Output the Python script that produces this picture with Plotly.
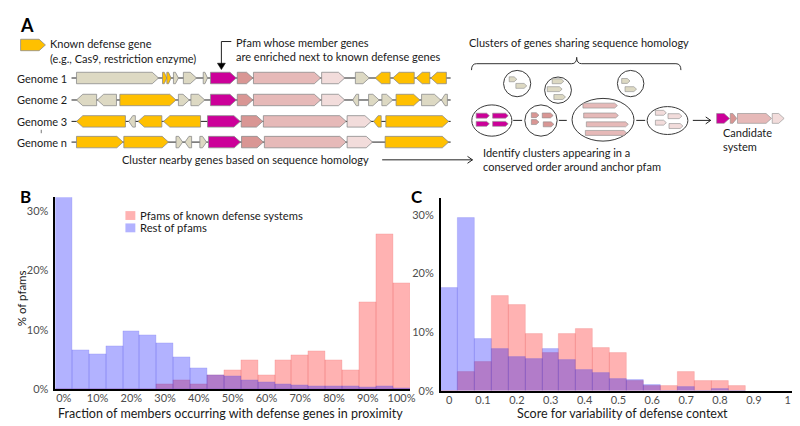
import plotly.graph_objects as go

# ---------------- DATA ----------------
# Panel B: fraction of members occurring with defense genes in proximity (bin centres, %)
b_bins = [0, 5, 10, 15, 20, 25, 30, 35, 40, 45, 50, 55, 60, 65, 70, 75, 80, 85, 90, 95, 100]
b_known = [0, 0, 0, 0, 0, 0, 0.8, 1.55, 0.8, 2.4, 3.2, 4.8, 2.4, 4.8, 5.7, 6.4, 4.8, 3.2, 14.7, 26.1, 17.9]
b_rest = [32.5, 6.5, 5.8, 7.2, 9.8, 9.05, 7.7, 5.3, 3.5, 2.3, 2.1, 1.55, 1.2, 0.8, 0.7, 0.5, 0.55, 0.45, 0.3, 0.5, 0.2]
b_ticks = [0, 10, 20, 30, 40, 50, 60, 70, 80, 90, 100]
b_ticktext = ["0%", "10%", "20%", "30%", "40%", "50%", "60%", "70%", "80%", "90%", "100%"]

# Panel C: score for variability of defense context (bin centres)
c_bins = [0, 0.05, 0.1, 0.15, 0.2, 0.25, 0.3, 0.35, 0.4, 0.45, 0.5, 0.55, 0.6, 0.65, 0.7, 0.75, 0.8, 0.85]
c_known = [0, 3.3, 4.9, 16.2, 14.6, 9.7, 6.5, 9.7, 10.6, 7.3, 6.5, 1.6, 0.85, 0.8, 3.3, 1.6, 1.6, 0.8]
c_rest = [17.5, 29.5, 8.9, 7.1, 5.8, 5.5, 7.1, 5.3, 3.6, 3.1, 2.1, 1.9, 1.05, 0.0, 0.7, 0.05, 0.35, 0.0]
c_ticks = [0, 0.1, 0.2, 0.3, 0.4, 0.5, 0.6, 0.7, 0.8, 0.9, 1]
c_ticktext = ["0", "0.1", "0.2", "0.3", "0.4", "0.5", "0.6", "0.7", "0.8", "0.9", "1"]

y_ticks = [0, 10, 20, 30]
y_ticktext = ["0%", "10%", "20%", "30%"]

series_names = ["Pfams of known defense systems", "Rest of pfams"]

# Panel A: gene neighbourhoods (start, end, strand, gene type) per genome row
genome_labels = ["Genome 1", "Genome 2", "Genome 3", "Genome n"]
genome_rows = [
    [(69, 151.7, 1, "other"), (155.7, 160, 1, "defense"), (160, 164.3, 1, "defense"),
     (166.7, 171.7, 1, "other"), (176.7, 190, 1, "other"), (196.7, 201, 1, "other"),
     (204, 230, 1, "anchor"), (231, 246.7, 1, "c1"), (247.3, 315, 1, "c2"), (316, 339.3, 1, "c3"),
     (350, 364, 1, "other"), (370, 385, -1, "defense"), (387.7, 409.3, -1, "defense"),
     (411, 425, -1, "defense"), (426, 441.7, -1, "defense")],
    [(69, 89.3, -1, "other"), (90, 109.3, -1, "other"), (112.7, 169.3, 1, "defense"),
     (171.7, 182.7, 1, "other"), (184.3, 198.3, 1, "other"),
     (204, 230, 1, "anchor"), (231, 246.7, 1, "c1"), (247.3, 315, 1, "c2"), (316, 339.3, 1, "c3"),
     (347.3, 353.3, -1, "other"), (363.3, 374, 1, "other"), (376.7, 387.7, 1, "other"),
     (391, 415, 1, "defense"), (416.7, 436, 1, "other"), (436.7, 442.7, -1, "other")],
    [(69, 118.3, -1, "defense"), (121.7, 128.3, -1, "other"), (131, 155, -1, "defense"),
     (156.7, 194, -1, "defense"),
     (201, 234, 1, "anchor"), (235, 256.7, 1, "c1"), (257.3, 340.7, 1, "c2"), (341.7, 366, 1, "c3"),
     (368.3, 376, -1, "defense"), (380.7, 444, 1, "defense")],
    [(69, 116, 1, "defense"), (116.7, 161.7, 1, "defense"), (169.3, 176, 1, "other"),
     (178.3, 185, -1, "other"), (193.3, 200, 1, "other"),
     (202, 234.3, 1, "anchor"), (235.3, 257.3, 1, "c1"), (258.3, 340.7, 1, "c2"), (341.7, 367.3, 1, "c3"),
     (380, 444, 1, "defense")],
]
genome_row_y = [71, 93.3, 115, 136]

# homology clusters: ellipse bounds (x0, x1, y0, y1) and member genes (start, end, y, type)
cluster_ellipses = [(499.3, 526.7, 63.3, 90), (540.7, 567.7, 70, 96.7), (614, 640.7, 63.3, 90),
                    (467.3, 507.7, 98.3, 130), (520.7, 553.3, 98.3, 130),
                    (568.3, 630.7, 91.7, 135), (644, 685, 100, 128.3)]
cluster_genes = [
    (505, 512.7, 72.3, "other"), (511.7, 522.7, 79, "other"),
    (548.3, 560, 74.3, "other"), (543.3, 558.3, 82.3, "other"), (550, 561.7, 90.3, "other"),
    (618.3, 626.7, 74, "other"), (621.7, 633.3, 82.3, "other"),
    (471.7, 485, 109.2, "anchor"), (488.3, 504, 109.2, "anchor"),
    (471.7, 485, 117.5, "anchor"), (488.3, 504, 117.5, "anchor"),
    (527.3, 535, 108.7, "c1"), (538.3, 549.3, 109, "c1"), (527.3, 535, 115.7, "c1"), (539.3, 550, 118, "c1"),
    (579.3, 614, 99, "c2"), (580, 615, 109, "c2"), (582.7, 625, 118, "c2"), (581.7, 623.3, 126.7, "c2"),
    (652.3, 663.3, 106.3, "c3"), (665, 679, 109.7, "c3"), (652.3, 663.3, 116.3, "c3"), (666, 680, 119.7, "c3"),
]
candidate_genes = [(714, 727, "anchor"), (727.7, 734.3, "c1"), (735, 769.3, "c2"), (770, 782, "c3")]

# ---------------- STYLE ----------------
RED = "rgba(255,0,0,0.3)"
BLUE = "rgba(0,0,255,0.3)"
RED_EDGE = "rgba(230,90,90,0.25)"
BLUE_EDGE = "rgba(90,90,230,0.25)"
GENE_COL = {"other": "#DDD9C3", "defense": "#FFC000", "anchor": "#CC0099",
            "c1": "#D99694", "c2": "#E6B9B8", "c3": "#F2DCDB"}
GENE_LINE = "#8C8C8C"
FONT = "Lato"
TXT = "#1A1A1A"
TICK = "#4D4D4D"
DIAG_SIZE = 11

W, H = 800, 426


def px_x(v):
    return v / W


def px_y(v):
    return 1 - v / H


fig = go.Figure()

# Panel B
fig.add_trace(go.Bar(x=b_bins, y=b_known, width=5, name=series_names[0], marker_color=RED,
                     marker_line=dict(color=RED_EDGE, width=0.8), xaxis="x", yaxis="y", showlegend=False))
fig.add_trace(go.Bar(x=b_bins, y=b_rest, width=5, name=series_names[1], marker_color=BLUE,
                     marker_line=dict(color=BLUE_EDGE, width=0.8), xaxis="x", yaxis="y", showlegend=False))
# Panel C
fig.add_trace(go.Bar(x=c_bins, y=c_known, width=0.05, name=series_names[0], marker_color=RED,
                     marker_line=dict(color=RED_EDGE, width=0.8), xaxis="x2", yaxis="y2", showlegend=False))
fig.add_trace(go.Bar(x=c_bins, y=c_rest, width=0.05, name=series_names[1], marker_color=BLUE,
                     marker_line=dict(color=BLUE_EDGE, width=0.8), xaxis="x2", yaxis="y2", showlegend=False))
# Invisible anchor trace for diagram axes
fig.add_trace(go.Scatter(x=[0, W], y=[0, H], mode="markers", marker=dict(opacity=0),
                         xaxis="x3", yaxis="y3", showlegend=False, hoverinfo="skip"))

shapes = []
annots = []


def gene_path(x0, x1, yc, h, strand):
    L = x1 - x0
    tip = min(0.55 * h, 0.6 * L)
    t, b = yc - h / 2, yc + h / 2
    if strand > 0:
        return f"M{x0},{t} L{x1 - tip},{t} L{x1},{yc} L{x1 - tip},{b} L{x0},{b} Z"
    return f"M{x1},{t} L{x0 + tip},{t} L{x0},{yc} L{x0 + tip},{b} L{x1},{b} Z"


def add_gene(x0, x1, yc, h, strand, kind, lw=0.8):
    shapes.append(dict(type="path", xref="x3", yref="y3", path=gene_path(x0, x1, yc, h, strand),
                       fillcolor=GENE_COL[kind], line=dict(color=GENE_LINE, width=lw), layer="above"))


def add_line(x0, y0, x1, y1, w=1, color="#222"):
    shapes.append(dict(type="line", xref="x3", yref="y3", x0=x0, y0=y0, x1=x1, y1=y1,
                       line=dict(color=color, width=w), layer="above"))


def add_text(x, y, s, size=DIAG_SIZE, anchor="left", color=TXT, bold=False, angle=0):
    if bold:
        s = f"<b>{s}</b>"
    annots.append(dict(x=x, y=y, xref="x3", yref="y3", text=s, showarrow=False, xanchor=anchor,
                       yanchor="middle", textangle=angle, font=dict(family=FONT, size=size, color=color)))


# ---- Panel A ----
add_text(10, 17, "A", size=18, bold=True, color="#000")
add_gene(12.7, 37.7, 37.5, 11.6, 1, "defense")
add_text(40, 36, "Known defense gene")
add_text(40, 51.5, "(e.g., Cas9, restriction enzyme)")
add_text(227.5, 35, "Pfam whose member genes")
add_text(227.5, 49.5, "are enriched next to known defense genes")
add_line(215, 34, 225, 34)
add_line(215, 34, 215, 57)
shapes.append(dict(type="path", xref="x3", yref="y3", path="M211,56 L219,56 L215,62.5 Z",
                   fillcolor="#000", line=dict(color="#000", width=0.5), layer="above"))

for lab, yrow, genes in zip(genome_labels, genome_row_y, genome_rows):
    add_text(61.5, yrow, lab, anchor="right")
    add_line(64, yrow, 446, yrow, w=1)
    for (g0, g1, st, kind) in genes:
        add_gene(g0, g1, yrow, 11.6, st, kind)
add_line(33.5, 123.5, 33.5, 127, w=0.8, color="#555")

add_text(113, 154, "Cluster nearby genes based on sequence homology")
add_line(377, 154, 468, 154, w=1)
add_line(463, 150.5, 468, 154, w=1)
add_line(463, 157.5, 468, 154, w=1)

add_text(462.5, 35, "Clusters of genes sharing sequence homology")
shapes.append(dict(type="path", xref="x3", yref="y3",
                   path="M467,63 Q467,56.5 472,56.5 L568,56.5 Q573,56.5 573,50 Q573,56.5 578,56.5 L673,56.5 Q678,56.5 678,63",
                   line=dict(color="#333", width=1), layer="above"))
for (e0, e1, f0, f1) in cluster_ellipses:
    shapes.append(dict(type="circle", xref="x3", yref="y3", x0=e0, x1=e1, y0=f0, y1=f1,
                       line=dict(color="#3A3A3A", width=1), fillcolor="rgba(0,0,0,0)", layer="above"))
for (g0, g1, gy, kind) in cluster_genes:
    add_gene(g0, g1, gy, 5, 1, kind, lw=0.6)
for (l0, l1) in [(509, 518), (555, 563), (633, 642)]:
    add_line(l0, 114, l1, 114, w=1)
add_line(690, 114, 708, 114, w=1)
add_line(703, 110.5, 708, 114, w=1)
add_line(703, 117.5, 708, 114, w=1)
for (g0, g1, kind) in candidate_genes:
    add_gene(g0, g1, 112, 10, 1, kind, lw=0.6)
add_text(477, 146.5, "Identify clusters appearing in a")
add_text(477, 160.5, "conserved order around anchor pfam")
add_text(718, 126.5, "Candidate")
add_text(718, 140.5, "system")

# ---- Panel labels & legend & axis titles ----
add_text(10, 191, "B", size=17, bold=True, color="#000")
add_text(404, 191, "C", size=17, bold=True, color="#000")
shapes.append(dict(type="rect", xref="x3", yref="y3", x0=118.3, x1=128.3, y0=206, y1=215,
                   fillcolor=RED, line=dict(width=0), layer="above"))
shapes.append(dict(type="rect", xref="x3", yref="y3", x0=118.3, x1=128.3, y0=218.5, y1=227.5,
                   fillcolor=BLUE, line=dict(width=0), layer="above"))
add_text(130.5, 210.5, series_names[0], size=11.2)
add_text(130.5, 223, series_names[1], size=11.2)
add_text(13.5, 294, "% of pfams", size=11.5, anchor="center", angle=-90)
add_text(224.5, 411, "Fraction of members occurring with defense genes in proximity", size=12.5, anchor="center")
add_text(619, 411, "Score for variability of defense context", size=12.5, anchor="center")

axis_common = dict(showgrid=False, zeroline=False, showline=True, linecolor="#000", linewidth=1.6,
                   ticks="", tickfont=dict(family=FONT, size=11, color=TICK), fixedrange=True)

fig.update_layout(
    width=W, height=H, margin=dict(l=0, r=0, t=0, b=0),
    paper_bgcolor="white", plot_bgcolor="rgba(0,0,0,0)",
    barmode="overlay", bargap=0, showlegend=False,
    xaxis=dict(domain=[px_x(47.7), px_x(405)], range=[-2.5, 102.5], anchor="y",
               tickvals=b_ticks, ticktext=b_ticktext, ticklabelstandoff=-2, **axis_common),
    yaxis=dict(domain=[px_y(386.7), px_y(192)], range=[0, 32.3], anchor="x",
               tickvals=y_ticks, ticktext=y_ticktext, ticklabelstandoff=3, **axis_common),
    xaxis2=dict(domain=[px_x(436), px_x(790)], range=[-0.025, 1.013], anchor="y2",
                tickvals=c_ticks, ticktext=c_ticktext, ticklabelstandoff=-2, **axis_common),
    yaxis2=dict(domain=[px_y(388.3), px_y(192.7)], range=[0, 32.9], anchor="x2",
                tickvals=y_ticks, ticktext=y_ticktext, ticklabelstandoff=3, **axis_common),
    xaxis3=dict(domain=[0, 1], range=[0, W], anchor="y3", visible=False, fixedrange=True),
    yaxis3=dict(domain=[0, 1], range=[H, 0], anchor="x3", visible=False, fixedrange=True),
    shapes=shapes, annotations=annots,
    font=dict(family=FONT),
)

fig.write_html("out.html")
